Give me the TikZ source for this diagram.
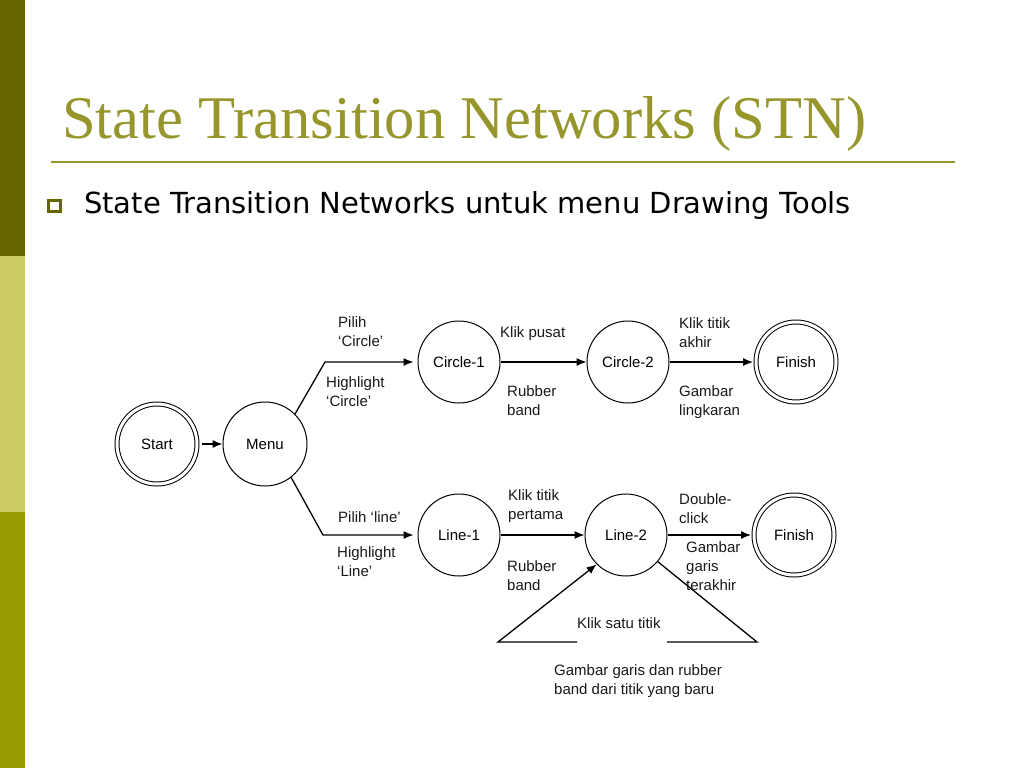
\documentclass[tikz,border=0pt]{standalone}
\usepackage{fontspec}
\setmainfont{Liberation Sans}
\newfontfamily\titlefont{Liberation Serif}
\newfontfamily\bodyfont{DejaVu Sans}
\usetikzlibrary{arrows.meta,positioning}
\definecolor{bardark}{RGB}{102,102,0}
\definecolor{barlight}{RGB}{204,204,102}
\definecolor{barolive}{RGB}{153,153,0}
\definecolor{titleol}{RGB}{150,150,45}

\begin{document}
\begin{tikzpicture}[x=1pt, y=-1pt,
    st/.style={draw, circle, line width=1pt, minimum size=82pt, inner sep=0pt, font=\fontsize{15}{19}\selectfont},
    fin/.style={st, double, double distance=3pt, minimum size=80pt, outer sep=3pt},
    arr/.style={-{Latex[length=10pt,width=8pt]}, line width=1.3pt},
    ln/.style={line width=1.3pt},
    lbl/.style={anchor=north west, align=left, inner sep=0pt, font=\fontsize{15}{19}\selectfont, text=black!90}
]
\useasboundingbox (0,0) rectangle (1024,768);
\fill[bardark] (0,0) rectangle (25,256);
\fill[barlight] (0,256) rectangle (25,512);
\fill[barolive] (0,512) rectangle (25,768);

\node[anchor=base west, inner sep=0pt, text=titleol, font=\titlefont\fontsize{60.6}{61}\selectfont] (title) at (62,138) {State Transition Networks (STN)};
\draw[titleol, line width=2pt] (51,162) -- (955,162);
\draw[bardark, line width=2.5pt] (48.5,200.5) rectangle (60.5,211.5);
\node[anchor=base west, inner sep=0pt, font=\bodyfont\fontsize{29}{30}\selectfont] (sub) at (84,213) {State Transition Networks untuk menu Drawing Tools};

\node[fin] (start) at (157,444) {Start};
\node[st, minimum size=84pt] (menu) at (265,444) {Menu};
\node[st] (cir1) at (459,362) {Circle-1};
\node[st] (cir2) at (628,362) {Circle-2};
\node[fin] (fin1) at (796,362) {Finish};
\node[st] (lin1) at (459,535) {Line-1};
\node[st] (lin2) at (626,535) {Line-2};
\node[fin] (fin2) at (794,535) {Finish};

\coordinate (kup) at (325,362);
\coordinate (kdn) at (323,535);
\coordinate (lpA) at (577,642);
\coordinate (lpB) at (498,642);
\coordinate (lpC) at (757,642);
\coordinate (lpD) at (667,642);

\draw[arr, shorten <=2pt] (start) -- (menu);
\draw[arr, shorten >=4pt] (menu.45) -- (kup) -- (cir1);
\draw[arr, shorten >=4pt] (menu.-52) -- (kdn) -- (lin1);
\draw[arr] (cir1) -- (cir2);
\draw[arr] (cir2) -- (fin1);
\draw[arr] (lin1) -- (lin2);
\draw[arr] (lin2) -- (fin2);
\draw[arr] (lpA) -- (lpB) -- (lin2.-135);
\draw[ln] (lin2.-40) -- (lpC) -- (lpD);

\node[lbl] (tPilihC) at (338,316) {Pilih\\`Circle'};
\node[lbl] (tHighC) at (326,376) {Highlight\\`Circle'};
\node[lbl] (tPusat) at (500,326) {Klik pusat};
\node[lbl] (tRubA) at (507,385) {Rubber\\band};
\node[lbl] (tAkhir) at (679,317) {Klik titik\\akhir};
\node[lbl] (tLingk) at (679,385) {Gambar\\lingkaran};
\node[lbl] (tPilihL) at (338,511) {Pilih `line'};
\node[lbl] (tHighL) at (337,546) {Highlight\\`Line'};
\node[lbl] (tPertama) at (508,489) {Klik titik\\pertama};
\node[lbl] (tRubB) at (507,560) {Rubber\\band};
\node[lbl] (tDouble) at (679,493) {Double-\\click};
\node[lbl] (tTerakhir) at (686,541) {Gambar\\garis\\terakhir};
\node[lbl] (tSatu) at (577,617) {Klik satu titik};
\node[lbl] (tBaru) at (554,664) {Gambar garis dan rubber\\band dari titik yang baru};
\end{tikzpicture}
\end{document}
